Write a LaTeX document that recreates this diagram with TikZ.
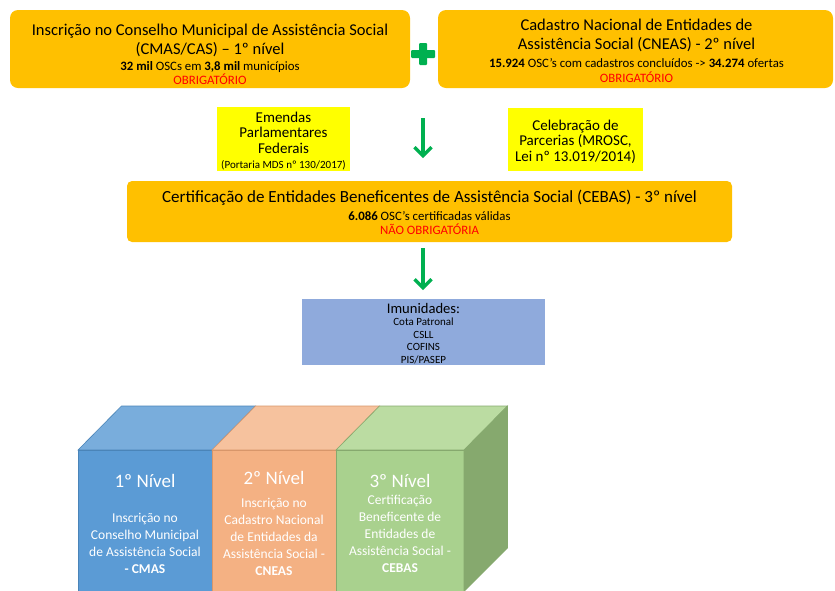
\documentclass[tikz,border=0pt]{standalone}
\usepackage{fontspec}
\setmainfont{Carlito}
\usetikzlibrary{arrows.meta}
\lineskiplimit=-30pt\relax
\definecolor{gold}{HTML}{FFC000}
\definecolor{yel}{HTML}{FFFF00}
\definecolor{grx}{HTML}{00B050}
\definecolor{redtx}{HTML}{FF0000}
\definecolor{imun}{HTML}{8FAADC}
\definecolor{bfa}{HTML}{5B9BD5}
\definecolor{bta}{HTML}{79ADDC}
\definecolor{bea}{HTML}{4A84B8}
\definecolor{bfb}{HTML}{F4B183}
\definecolor{btb}{HTML}{F6C29E}
\definecolor{beb}{HTML}{D8966A}
\definecolor{bfc}{HTML}{A9D18E}
\definecolor{btc}{HTML}{BBDCA2}
\definecolor{bec}{HTML}{86A96E}
\definecolor{bsc}{HTML}{86A96E}
\newcommand\fbig{\fontsize{16.5}{19}\selectfont\lineskiplimit=-30pt\relax}
\newcommand\fsmall{\fontsize{12.8}{14}\selectfont}
\tikzset{
    nivel/.style={fill=gold,rounded corners=8pt,inner sep=0pt},
    nivtxt/.style={align=center,inner sep=0pt,font=\fbig},
    emenda/.style={fill=yel,inner sep=0pt,align=center,font=\fontsize{15}{19}\selectfont},
    imunbox/.style={fill=imun,inner sep=0pt,align=center,font=\fontsize{11}{12.5}\selectfont},
    seta/.style={grx,line width=3.2pt,-{Straight Barb[length=8.5pt,width=17pt]}},
    blocotit/.style={white,font=\fontsize{19}{22}\selectfont},
    blocotxt/.style={white,align=center,font=\fontsize{13.5}{17}\selectfont}
}

\begin{document}
\begin{tikzpicture}[x=1pt,y=-1pt]
        \useasboundingbox (0,0) rectangle (835,590);
        \def\dx{43.5}
        \def\dy{44}
        % caixas de cima
        \node [nivel,minimum width=400,minimum height=78] (cmas) at (210,49) {};
        \node [nivtxt] (cmastxt) at (210,54.5)
            {Inscrição no Conselho Municipal de Assistência Social\\
             (CMAS/CAS) -- 1º nível\\[-3pt]
             {\fsmall\textbf{32 mil} OSCs em \textbf{3,8 mil} municípios}\\[-5pt]
             {\fsmall\color{redtx}OBRIGATÓRIO}};
        \node [nivel,minimum width=395,minimum height=78] (cneas) at (635.5,49) {};
        \node [nivtxt] (cneastxt) at (636.5,51)
            {Cadastro Nacional de Entidades de\\
             Assistência Social (CNEAS) - 2º nível\\[-1pt]
             {\fsmall\textbf{15.924} OSC’s com cadastros concluídos -> \textbf{34.274} ofertas}\\[-4pt]
             {\fsmall\color{redtx}OBRIGATÓRIO}};
        \fill [grx,rounded corners=1pt] (411,50) rectangle (435,58);
        \fill [grx,rounded corners=1pt] (419,43) rectangle (427,65);
        % notas
        \node [emenda,minimum width=133,minimum height=64] (emendas) at (283.5,139) {};
        \node [emenda,fill=none] (emendastxt) at (283.5,141)
            {Emendas\\[-4pt]Parlamentares\\[-3pt]Federais\\[-4pt]
             {\fontsize{11}{12}\selectfont(Portaria MDS nº 130/2017)}};
        \node [emenda,minimum width=135,minimum height=63] (mrosc) at (575.5,139.5) {};
        \node [emenda,fill=none] (mrosctxt) at (575.5,141.5)
            {Celebração de\\[-4pt]Parcerias (MROSC,\\[-3pt]Lei nº 13.019/2014)};
        \node [nivel,rounded corners=5pt,minimum width=605,minimum height=61] (cebas) at (429.5,211.5) {};
        \node [nivtxt,font=\fontsize{17}{19}\selectfont] (cebastxt) at (429.5,212.5)
            {Certificação de Entidades Beneficentes de Assistência Social (CEBAS) - 3º nível\\[-1pt]
             {\fsmall\textbf{6.086} OSC’s certificadas válidas}\\[-5pt]
             {\fsmall\color{redtx}NÃO OBRIGATÓRIA}};
        \coordinate (s1a) at (423,118);
        \coordinate (s1b) at (423,158);
        \coordinate (s2a) at (423,248);
        \coordinate (s2b) at (423,290);
        \draw [seta] (s1a) -- (s1b);
        \draw [seta] (s2a) -- (s2b);
        \node [imunbox,minimum width=243,minimum height=66] (imunidades) at (423.5,332) {};
        \node [imunbox,fill=none] (imuntxt) at (423.5,333.5)
            {{\fontsize{14.6}{15}\selectfont Imunidades:}\\[0pt]
             Cota Patronal\\CSLL\\COFINS\\PIS/PASEP};
        % blocos
        \foreach \xa/\xb/\fc/\tc/\ec in {78/212/bfa/bta/bea,212/336/bfb/btb/beb,336/464/bfc/btc/bec} {
            \filldraw [fill=\tc,draw=\ec,line width=0.6pt]
                (\xa,450) -- (\xa+\dx,450-\dy) -- (\xb+\dx,450-\dy) -- (\xb,450) -- cycle;
            \filldraw [fill=\fc,draw=\ec,line width=0.6pt] (\xa,450) rectangle (\xb,596);
        }
        \filldraw [fill=bsc,draw=bec,line width=0.6pt]
            (464,450) -- (464+\dx,450-\dy) -- (464+\dx,548) -- (464,591.5) -- cycle;
        \node [blocotit] (tit1) at (145,481) {1º Nível};
        \node [blocotit] (tit2) at (274,478) {2º Nível};
        \node [blocotit] (tit3) at (400,481) {3º Nível};
        \node [blocotxt] (txt1) at (145,543)
            {Inscrição no\\Conselho Municipal\\de Assistência Social\\\textbf{- CMAS}};
        \node [blocotxt] (txt2) at (274,537)
            {Inscrição no\\Cadastro Nacional\\de Entidades da\\Assistência Social -\\\textbf{CNEAS}};
        \node [blocotxt] (txt3) at (400,534)
            {Certificação\\Beneficente de\\Entidades de\\Assistência Social -\\\textbf{CEBAS}};
\end{tikzpicture}
\end{document}
